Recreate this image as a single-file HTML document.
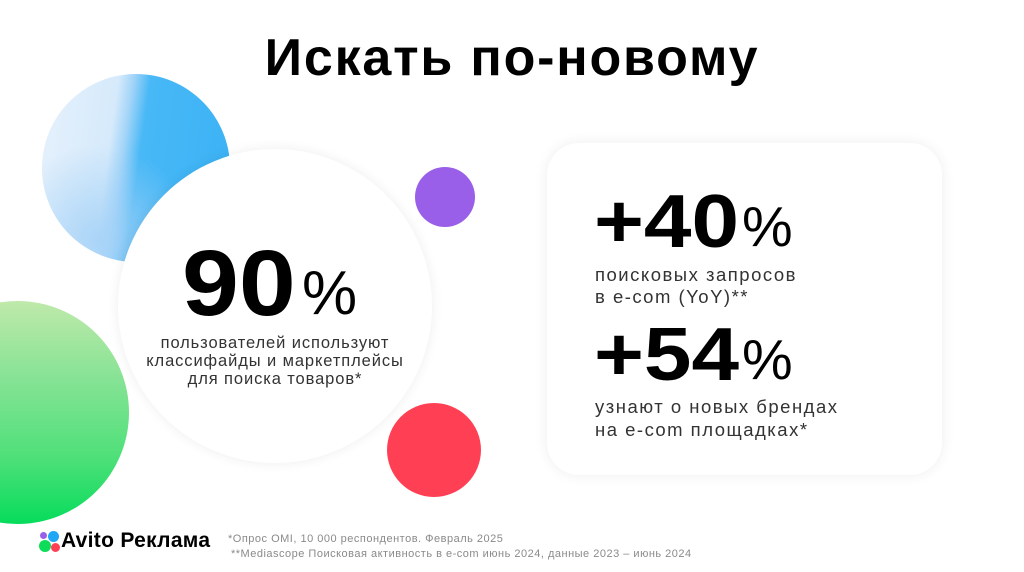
<!DOCTYPE html>
<html>
<head>
<meta charset="utf-8">
<style>
  html,body{margin:0;padding:0;}
  body{width:1024px;height:572px;overflow:hidden;background:#fff;position:relative;font-family:"Liberation Sans","Noto Sans CJK SC",sans-serif;color:#000;}
  .abs{position:absolute;}
  .circle{position:absolute;border-radius:50%;}
  .t{position:absolute;white-space:nowrap;line-height:1;}
  .wide{transform-origin:0 0;}
</style>
</head>
<body>

<!-- blue circle -->
<div class="circle" style="left:42px;top:74px;width:188px;height:188px;
  background:
   radial-gradient(circle at 30% 88%, rgba(165,210,247,0.9) 0%, rgba(165,210,247,0) 45%),
   linear-gradient(98deg, #e6f1fc 0%, #d6eafb 36%, #a2d4f8 43%, #48b8f6 51%, #3ab2f5 100%);"></div>

<!-- green circle -->
<div class="circle" style="left:-94px;top:301px;width:223px;height:223px;
  background:linear-gradient(180deg,#bfe9aa 0%,#86e395 35%,#4fe079 70%,#06dc5c 100%);"></div>

<!-- purple -->
<div class="circle" style="left:415px;top:167px;width:60px;height:60px;background:#9a5fe8;"></div>

<!-- red -->
<div class="circle" style="left:387px;top:403px;width:94px;height:94px;background:#ff4054;"></div>

<!-- main white circle -->
<div class="circle" style="left:118px;top:149px;width:314px;height:314px;background:#fff;box-shadow:0 0 12px rgba(0,0,0,0.07);"></div>

<!-- right card -->
<div class="abs" style="left:547px;top:143px;width:395px;height:332px;border-radius:32px;background:#fff;box-shadow:0 0 14px rgba(0,0,0,0.07);"></div>

<!-- title -->
<div class="t" style="left:0;width:1024px;text-align:center;top:32px;font-size:52px;font-weight:bold;letter-spacing:1.8px;">Искать по-новому</div>

<!-- 90% -->
<div class="t wide" style="left:182px;top:237px;font-size:93px;font-weight:bold;transform:scaleX(1.1);">90</div>
<div class="t" style="left:302px;top:263px;font-size:62px;">%</div>

<div class="t" style="left:118px;width:314px;text-align:center;top:334px;font-size:16.5px;line-height:18px;color:#333;letter-spacing:0.9px;white-space:normal;">
  пользователей используют<br>классифайды и маркетплейсы<br>для поиска товаров*
</div>

<!-- +40% -->
<div class="t wide" style="left:594px;top:184px;font-size:75px;font-weight:bold;transform:scaleX(1.14);">+40</div>
<div class="t" style="left:742px;top:199px;font-size:57px;">%</div>
<div class="t" style="left:595px;top:264px;font-size:18.5px;line-height:22px;color:#333;letter-spacing:1.5px;">поисковых запросов<br>в e-com (YoY)**</div>

<!-- +54% -->
<div class="t wide" style="left:594px;top:317px;font-size:75px;font-weight:bold;transform:scaleX(1.14);">+54</div>
<div class="t" style="left:742px;top:332px;font-size:57px;">%</div>
<div class="t" style="left:595px;top:395px;font-size:18.5px;line-height:23px;color:#333;letter-spacing:1.5px;">узнают о новых брендах<br>на e-com площадках*</div>

<!-- logo -->
<div class="circle" style="left:40px;top:532px;width:7px;height:7px;background:#9a5fe8;"></div>
<div class="circle" style="left:48px;top:531px;width:11px;height:11px;background:#1fa6f5;"></div>
<div class="circle" style="left:39px;top:540px;width:12px;height:12px;background:#0ddc5a;"></div>
<div class="circle" style="left:51px;top:543px;width:9px;height:9px;background:#ff4054;"></div>
<div class="t" style="left:61px;top:530px;font-size:21px;font-weight:bold;letter-spacing:0.3px;">Avito Реклама</div>

<!-- footnotes -->
<div class="t" style="left:228px;top:534px;font-size:11px;color:#8a8a8a;letter-spacing:0.5px;">*Опрос OMI, 10 000 респондентов. Февраль 2025</div>
<div class="t" style="left:231px;top:549px;font-size:11px;color:#8a8a8a;letter-spacing:0.5px;">**Mediascope Поисковая активность в e-com июнь 2024, данные 2023 – июнь 2024</div>

</body>
</html>
